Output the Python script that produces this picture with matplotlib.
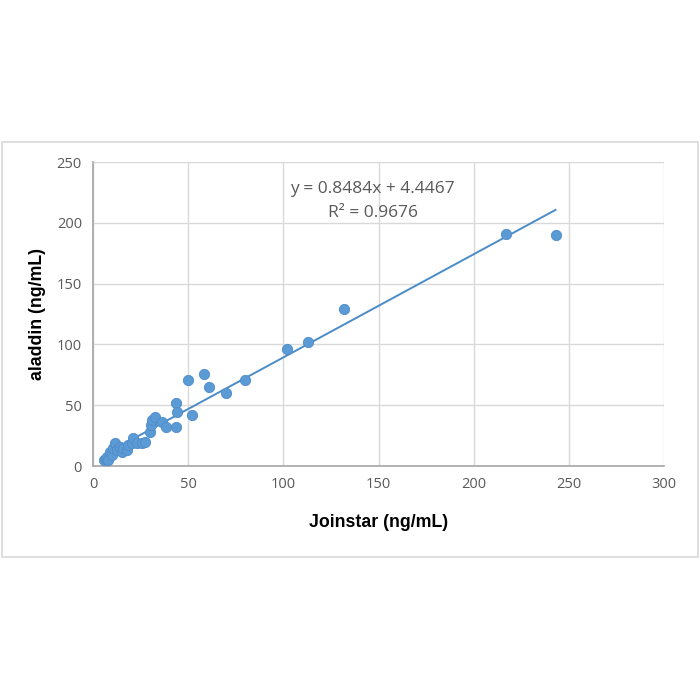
import numpy as np
import matplotlib
matplotlib.use("Agg")
import matplotlib.pyplot as plt
from matplotlib.patches import Rectangle

# -----------------------------------
# Data
# -----------------------------------

joinstar = [6, 7, 7.2, 8, 8.9, 9.8, 10.7, 11.6, 12.4, 14.2, 15, 16, 17.7,
            18.6, 20.3, 21.2, 23, 25.6, 27.3, 30, 30.5, 30.8, 32.6, 36,
            38.4, 43.4, 43.8, 44.3, 49.8, 52, 58.5, 61, 70, 80,
            102, 113, 132, 217, 243]
aladdin = [5, 6, 7.6, 5, 11.7, 9, 14.5, 18.6, 13, 15.8, 11.7, 14.5, 13,
           17, 18.6, 22.7, 18.6, 18.6, 20, 28, 33.6, 37.7, 40.4, 36,
           32, 32, 52, 44.5, 70.5, 42, 76, 65, 60, 71,
           96, 102, 129, 191, 190]

slope = 0.8484
intercept = 4.4467
r2 = 0.9676

x_ticks = [0, 50, 100, 150, 200, 250, 300]
y_ticks = [0, 50, 100, 150, 200, 250]

BLUE = "#5B9BD5"
GRID = "#D9D9D9"
TEXT = "#595959"

# -----------------------------------
# Figure
# -----------------------------------

fig = plt.figure(figsize=(7, 7), dpi=100)
fig.patch.set_facecolor("white")

# outer chart frame
fig.patches.append(Rectangle((2 / 700, 143 / 700), 696 / 700, 415 / 700,
                             transform=fig.transFigure, fill=False,
                             edgecolor=GRID, linewidth=1.2))

ax = fig.add_axes([93 / 700, 234 / 700, 571 / 700, 304 / 700])

ax.scatter(joinstar, aladdin, s=55, color=BLUE, edgecolor="#4F8BC9",
           linewidth=0.6, zorder=3)

xl = np.array([min(joinstar), max(joinstar)])
ax.plot(xl, slope * xl + intercept, color="#4A8CC7", linewidth=1.4, zorder=2)

ax.set_xlim(0, 300)
ax.set_ylim(0, 250)
ax.set_xticks(x_ticks)
ax.set_yticks(y_ticks)
ax.grid(True, color=GRID, linewidth=1)
ax.set_axisbelow(True)
ax.tick_params(length=0, colors=TEXT, labelsize=10.5, pad=8)
for lbl in ax.get_xticklabels() + ax.get_yticklabels():
    lbl.set_family("Open Sans")

for s in ["top", "right"]:
    ax.spines[s].set_visible(False)
for s in ["left", "bottom"]:
    ax.spines[s].set_color("#A6A6A6")
    ax.spines[s].set_linewidth(1.2)

ax.set_xlabel("Joinstar (ng/mL)", fontsize=12.8, fontweight="bold",
              family="Liberation Sans", labelpad=16)
ax.set_ylabel("aladdin (ng/mL)", fontsize=12.8, fontweight="bold",
              family="Liberation Sans", labelpad=8)

ax.text(147, 228, f"y = {slope}x + {intercept}", ha="center", va="center",
        fontsize=12.5, color=TEXT, family="Open Sans")
ax.text(147, 208, f"R² = {r2}", ha="center", va="center",
        fontsize=12.5, color=TEXT, family="Open Sans")

fig.savefig("out.png", dpi=100)
